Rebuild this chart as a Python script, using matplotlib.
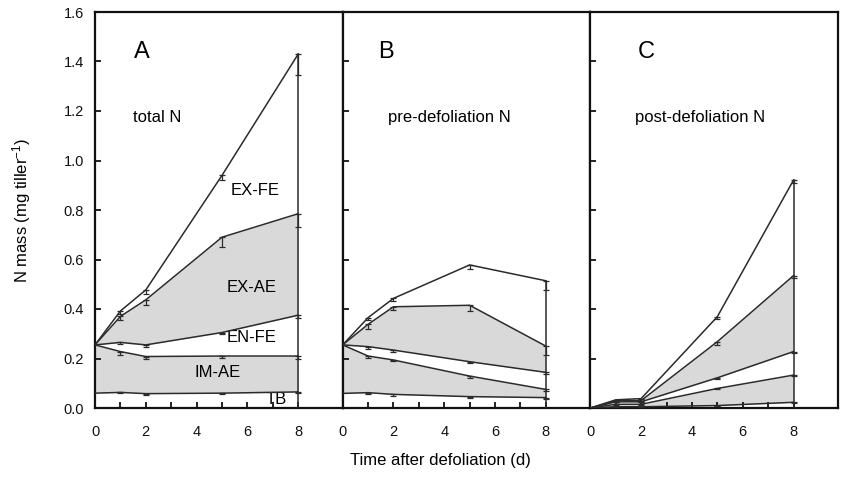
import numpy as np
import matplotlib
matplotlib.use("Agg")
import matplotlib.pyplot as plt

plt.rcParams['font.family'] = ['Liberation Sans', 'DejaVu Sans']
plt.rcParams['mathtext.fontset'] = 'custom'
plt.rcParams['mathtext.rm'] = 'Liberation Sans'
plt.rcParams['mathtext.default'] = 'regular'

# ---------------- data ----------------
days = [0, 1, 2, 5, 8]
components = ["TB", "IM-AE", "EN-FE", "EX-AE", "EX-FE"]
panels = ["A", "B", "C"]
panel_titles = ["total N", "pre-defoliation N", "post-defoliation N"]

# component N mass (mg tiller-1), stacked bottom -> top
A_TB   = [0.060, 0.063, 0.058, 0.060, 0.065]
A_IMAE = [0.195, 0.165, 0.150, 0.150, 0.145]
A_ENFE = [0.000, 0.037, 0.047, 0.095, 0.165]
A_EXAE = [0.000, 0.105, 0.182, 0.385, 0.410]
A_EXFE = [0.000, 0.022, 0.040, 0.250, 0.645]

B_TB   = [0.059, 0.062, 0.055, 0.046, 0.042]
B_IMAE = [0.196, 0.148, 0.139, 0.083, 0.033]
B_ENFE = [0.000, 0.038, 0.040, 0.058, 0.069]
B_EXAE = [0.000, 0.090, 0.175, 0.228, 0.106]
B_EXFE = [0.000, 0.027, 0.034, 0.163, 0.264]

C_TB   = [0.000, 0.005, 0.005, 0.010, 0.023]
C_IMAE = [0.000, 0.010, 0.010, 0.069, 0.110]
C_ENFE = [0.000, 0.010, 0.010, 0.043, 0.095]
C_EXAE = [0.000, 0.005, 0.005, 0.146, 0.307]
C_EXFE = [0.000, 0.003, 0.008, 0.101, 0.386]

# standard errors (drawn downward from each cumulative boundary)
A_ERR = [[0, .004, .004, .004, .004],
         [0, .012, .010, .006, .010],
         [0, .006, .008, .008, .012],
         [0, .015, .020, .040, .055],
         [0, .012, .015, .020, .085]]
B_ERR = [[0, .004, .005, .005, .004],
         [0, .008, .005, .006, .005],
         [0, .008, .008, .005, .005],
         [0, .020, .015, .025, .036],
         [0, .008, .010, .015, .037]]
C_ERR = [[0, .002, .002, .003, .003],
         [0, .002, .002, .004, .004],
         [0, .002, .002, .005, .005],
         [0, .003, .003, .012, .010],
         [0, .003, .003, .010, .010]]

panel_data = [
    ([A_TB, A_IMAE, A_ENFE, A_EXAE, A_EXFE], A_ERR),
    ([B_TB, B_IMAE, B_ENFE, B_EXAE, B_EXFE], B_ERR),
    ([C_TB, C_IMAE, C_ENFE, C_EXAE, C_EXFE], C_ERR),
]

# labels in panel A: (x, y)
label_pos = {"EX-FE": (5.35, 0.88), "EX-AE": (5.2, 0.485), "EN-FE": (5.2, 0.283),
             "IM-AE": (3.9, 0.143), "TB": (6.7, 0.035)}

# ---------------- figure ----------------
fig = plt.figure(figsize=(8.44, 4.82), dpi=100)
W, H = 844, 482
left, right, top, bottom = 95, 838, 12, 408
pw = (right - left) / 3

line_c = '#2b2b2b'
gray = '#d9d9d9'
fills = ['white', gray, 'white', gray, 'white']

axes = []
for i in range(3):
    ax = fig.add_axes([(left + i * pw) / W, (H - bottom) / H, pw / W, (bottom - top) / H])
    axes.append(ax)
    comps, errs = panel_data[i]
    cum = np.cumsum(np.array(comps), axis=0)
    x = np.array(days)
    lower = np.zeros(len(days))
    for k in range(len(components)):
        ax.fill_between(x, lower, cum[k], color=fills[k], lw=0, zorder=1)
        lower = cum[k]
    for k in range(len(components)):
        ax.plot(x, cum[k], color=line_c, lw=1.1, zorder=3)
        e = np.array(errs[k])
        ax.errorbar(x[1:], cum[k][1:], yerr=[e[1:], np.zeros(len(e) - 1)], fmt='none',
                    ecolor=line_c, elinewidth=0.9, capsize=2.5, capthick=0.9, zorder=4)
    ax.plot([x[-1], x[-1]], [0, cum[-1][-1]], color=line_c, lw=1.1, zorder=3)

    ax.set_xlim(0, 9.75)
    ax.set_ylim(0, 1.6)
    ax.set_xticks([0, 2, 4, 6, 8])
    ax.set_xticks([1, 3, 5, 7], minor=True)
    ax.set_yticks(np.arange(0, 1.61, 0.2))
    ax.tick_params(axis='both', which='both', direction='in', length=4, width=1.3,
                   labelsize=10.5, top=False, right=False, colors='#111111')
    ax.tick_params(axis='x', pad=12)
    ax.tick_params(axis='y', pad=8)
    if i == 0:
        ax.set_yticklabels([f"{v:.1f}" for v in np.arange(0, 1.61, 0.2)])
    else:
        ax.set_yticklabels([])
    for s in ax.spines.values():
        s.set_linewidth(1.6)
        s.set_color('#111111')

    ax.text([1.55, 1.4, 1.85][i], 1.44, panels[i], fontsize=17, ha='left', va='center')
    ax.text([1.5, 1.8, 1.75][i], 1.175, panel_titles[i], fontsize=12, ha='left', va='center')

for name, (px, py) in label_pos.items():
    axes[0].text(px, py, name, fontsize=12, ha='left', va='center', zorder=2)

fig.text(22 / W, 1 - 210 / H, 'N mass (mg tiller$^{-1}$)', rotation=90,
         ha='center', va='center', fontsize=12)
fig.text(440 / W, 1 - 460 / H, 'Time after defoliation (d)', ha='center', va='center',
         fontsize=12)

fig.savefig('out.png', dpi=100, facecolor='white')
